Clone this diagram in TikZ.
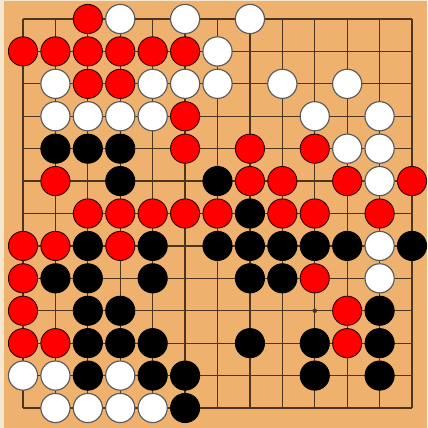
\documentclass[tikz,border=0pt]{standalone}
\definecolor{boardtan}{RGB}{238,178,110}
\definecolor{edgecream}{RGB}{246,232,206}
\definecolor{gridbrown}{RGB}{78,54,30}
\tikzset{
  gridline/.style={line width=1.1pt,draw=gridbrown},
  blackstone/.style={fill=black,draw=black,line width=0.8pt},
  whitestone/.style={fill=white,draw=black!65,line width=1pt},
  redstone/.style={fill=red,draw=black!80!red,line width=0.8pt}
}
\begin{document}
\begin{tikzpicture}[x=1cm,y=-1cm]
  \useasboundingbox (-0.710,-0.586) rectangle (12.463,12.617);
  \fill[boardtan] (-0.710,-0.586) rectangle (12.463,12.617);
  \fill[edgecream] (-0.710,-0.586) rectangle (-0.590,12.617);
  \fill[edgecream] (-0.710,-0.586) rectangle (12.463,-0.540);
  \foreach \i in {0,...,12} {
    \draw[gridline] (\i,0) -- (\i,12);
    \draw[gridline] (0,\i) -- (12,\i);
  }
  \foreach \p in {(3,3),(9,3),(3,9),(9,9),(6,6)}
    \fill[gridbrown] \p circle (0.07);
  % stones, given as (column,row)
  \foreach \p in {(1,4),(2,4),(3,4),(3,5),(6,5),(7,6),(2,7),(4,7),(6,7),(7,7),
      (8,7),(9,7),(10,7),(12,7),(1,8),(2,8),(4,8),(7,8),(8,8),(2,9),(3,9),
      (11,9),(2,10),(3,10),(4,10),(7,10),(9,10),(11,10),(2,11),(4,11),(5,11),
      (9,11),(11,11),(5,12)}
    \draw[blackstone] \p circle (0.45);
  \foreach \p in {(2,0),(0,1),(1,1),(2,1),(3,1),(4,1),(5,1),(2,2),(3,2),(5,3),
      (5,4),(7,4),(9,4),(1,5),(7,5),(8,5),(10,5),(12,5),(2,6),(3,6),(4,6),
      (5,6),(6,6),(8,6),(9,6),(11,6),(0,7),(1,7),(3,7),(0,8),(9,8),(0,9),
      (10,9),(0,10),(1,10),(10,10)}
    \draw[redstone] \p circle (0.45);
  \foreach \p in {(3,0),(5,0),(7,0),(6,1),(1,2),(4,2),(5,2),(6,2),(8,2),(10,2),
      (1,3),(2,3),(3,3),(4,3),(9,3),(11,3),(10,4),(11,4),(11,5),(11,7),(11,8),
      (0,11),(1,11),(3,11),(1,12),(2,12),(3,12),(4,12)}
    \draw[whitestone] \p circle (0.45);
\end{tikzpicture}
\end{document}
